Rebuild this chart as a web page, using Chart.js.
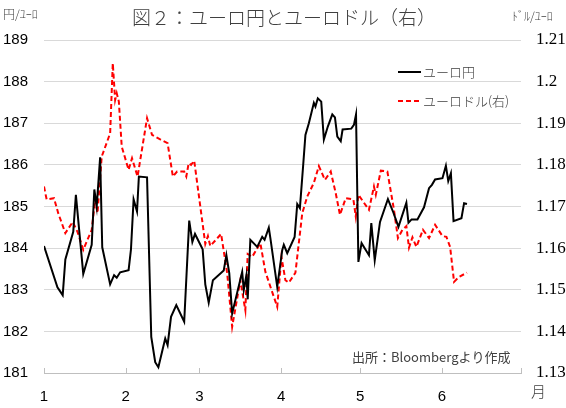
<!DOCTYPE html>
<html>
<head>
<meta charset="utf-8">
<script src="https://cdn.jsdelivr.net/npm/chart.js@4"></script>
<style>
  body { margin: 0; background: #fff; }
  #wrap { width: 566px; height: 408px; position: relative; }
</style>
</head>
<body>
<div id="wrap"><canvas id="fxChart"></canvas></div>
<script>
// x = days since Jan 1
const yenDays = [0, 5.1, 7.1, 8.1, 11.1, 12.1, 14.9, 18.1, 19.1, 20.0, 21.3, 22.1, 25.1, 26.6, 27.6, 28.9, 32.1, 33.0, 34.0, 35.3, 36.0, 39.1, 40.7, 42.2, 43.4, 46.0, 46.9, 48.2, 50.2, 53.2, 55.1, 56.3, 57.3, 60.2, 61.2, 62.5, 64.1, 68.2, 69.2, 70.3, 71.4, 75.2, 75.8, 76.8, 77.3, 78.3, 80.9, 82.8, 83.7, 85.3, 85.9, 88.5, 90.4, 91.0, 92.3, 95.1, 96.1, 97.1, 98.4, 99.2, 100.5, 102.4, 103.0, 103.9, 105.2, 106.2, 107.7, 109.4, 110.4, 111.3, 112.6, 113.3, 116.6, 117.6, 118.4, 119.3, 120.5, 123.3, 124.2, 125.5, 127.5, 130.5, 132.6, 134.5, 137.5, 138.3, 139.5, 141.7, 144.2, 146.1, 147.2, 148.4, 151.2, 152.5, 153.4, 154.4, 155.4, 158.4, 159.4, 160.5];
const yenValues = [184.05, 183.06, 182.87, 183.73, 184.39, 185.28, 183.38, 184.08, 185.41, 185.00, 186.18, 184.02, 183.13, 183.35, 183.29, 183.42, 183.47, 183.97, 185.17, 184.88, 185.72, 185.70, 181.87, 181.26, 181.14, 181.83, 181.67, 182.35, 182.63, 182.23, 184.66, 184.15, 184.34, 183.97, 183.13, 182.69, 183.23, 183.46, 183.83, 183.40, 182.43, 183.43, 182.99, 183.35, 182.77, 184.20, 184.03, 184.27, 184.20, 184.49, 184.24, 183.07, 183.95, 184.08, 183.88, 184.27, 185.06, 184.96, 186.04, 186.72, 187.00, 187.49, 187.40, 187.60, 187.52, 186.61, 186.92, 187.21, 187.14, 186.68, 186.57, 186.85, 186.87, 186.96, 187.21, 183.67, 184.12, 183.83, 184.60, 183.71, 184.63, 185.18, 184.85, 184.51, 185.09, 184.61, 184.69, 184.69, 184.98, 185.44, 185.52, 185.65, 185.68, 185.98, 185.61, 185.80, 184.65, 184.72, 185.08, 185.06];

const usdDays = [0, 1.0, 3.8, 5.4, 8.1, 10.9, 12.7, 14.9, 18.1, 19.4, 20.3, 21.9, 25.1, 26.1, 27.0, 27.6, 28.4, 29.5, 32.1, 33.4, 35.5, 39.1, 41.0, 44.1, 46.9, 48.9, 50.5, 53.2, 54.0, 54.9, 55.8, 57.0, 61.2, 62.2, 63.1, 67.2, 69.5, 71.4, 74.5, 76.4, 77.3, 79.0, 82.1, 84.0, 88.5, 90.1, 91.6, 92.9, 95.4, 98.0, 99.9, 102.4, 104.3, 106.6, 108.8, 110.7, 112.3, 114.5, 117.4, 118.3, 119.3, 123.3, 125.2, 125.9, 127.8, 130.3, 132.8, 134.3, 136.0, 137.5, 138.5, 139.8, 141.3, 143.8, 146.1, 148.4, 151.2, 152.7, 154.1, 155.6, 157.5, 160.5];
const usdValues = [1.1748, 1.1717, 1.1720, 1.1684, 1.1636, 1.1663, 1.1639, 1.1596, 1.1644, 1.1716, 1.1684, 1.1820, 1.1876, 1.2044, 1.1956, 1.1972, 1.1952, 1.1844, 1.1788, 1.1816, 1.1772, 1.1912, 1.1872, 1.1861, 1.1852, 1.1772, 1.1784, 1.1784, 1.1772, 1.1804, 1.1800, 1.1810, 1.1610, 1.1629, 1.1605, 1.1634, 1.1540, 1.1411, 1.1523, 1.1451, 1.1586, 1.1579, 1.1612, 1.1543, 1.1459, 1.1579, 1.1523, 1.1517, 1.1541, 1.1684, 1.1724, 1.1757, 1.1797, 1.1764, 1.1784, 1.1732, 1.1680, 1.1720, 1.1717, 1.1676, 1.1728, 1.1692, 1.1748, 1.1728, 1.1786, 1.1784, 1.1692, 1.1624, 1.1644, 1.1653, 1.1601, 1.1626, 1.1603, 1.1644, 1.1624, 1.1656, 1.1629, 1.1627, 1.1603, 1.1519, 1.1531, 1.1541];

const monthStarts = [0, 31, 59, 90, 120, 151, 181];
const monthLabels = ["1", "2", "3", "4", "5", "6", ""];

const seriesNames = ["ユーロ円", "ユーロドル(右)"];
const titleText = "図２：ユーロ円とユーロドル（右）";
const sourceText = "出所：Bloombergより作成";

const jp = '"Noto Sans CJK JP", sans-serif';

function toPoints(xs, ys) {
  return xs.map((x, i) => ({ x: x, y: ys[i] }));
}

// title, units, legend, source note, inward month ticks
const extras = {
  id: "extras",
  afterDraw(chart) {
    const ctx = chart.ctx;
    const area = chart.chartArea;
    const xs = chart.scales.x;
    ctx.save();

    // inward tick marks on the bottom axis
    ctx.strokeStyle = "#bfbfbf";
    ctx.lineWidth = 1;
    monthStarts.forEach(d => {
      const px = Math.round(xs.getPixelForValue(d)) + 0.5;
      ctx.beginPath();
      ctx.moveTo(px, area.bottom);
      ctx.lineTo(px, area.bottom - 5);
      ctx.stroke();
    });

    ctx.fillStyle = "#404040";
    ctx.textBaseline = "middle";
    ctx.font = "300 19px " + jp;
    ctx.textAlign = "center";
    ctx.fillText(titleText, 284, 18);

    ctx.font = "300 12px " + jp;
    ctx.textAlign = "left";
    ctx.fillText("円/ﾕｰﾛ", 3, 14);
    ctx.fillText("ﾄﾞﾙ/ﾕｰﾛ", 512, 16);

    ctx.font = "300 15px " + jp;
    ctx.fillText("月", 531, 391);

    ctx.font = "13px " + jp;
    ctx.fillText(sourceText, 352, 357);

    // legend
    const rows = [72, 101];
    chart.data.datasets.forEach((ds, i) => {
      const y = rows[i];
      ctx.strokeStyle = ds.borderColor;
      ctx.lineWidth = 2;
      ctx.setLineDash(ds.borderDash || []);
      ctx.beginPath();
      ctx.moveTo(398, y);
      ctx.lineTo(421, y);
      ctx.stroke();
      ctx.setLineDash([]);
      ctx.fillStyle = "#404040";
      ctx.font = "300 13px " + jp;
      ctx.fillText(ds.label, 423, y);
    });
    ctx.restore();
  }
};

new Chart("fxChart", {
  type: "line",
  data: {
    datasets: [{
      label: seriesNames[0],
      data: toPoints(yenDays, yenValues),
      borderColor: "#000000",
      borderWidth: 2,
      pointRadius: 0,
      tension: 0,
      yAxisID: "y"
    }, {
      label: seriesNames[1],
      data: toPoints(usdDays, usdValues),
      borderColor: "#ff0000",
      borderWidth: 2,
      borderDash: [5, 3],
      pointRadius: 0,
      tension: 0,
      yAxisID: "y1"
    }]
  },
  options: {
    responsive: true,
    maintainAspectRatio: false,
    animation: false,
    layout: { padding: { top: 40, left: 0, right: 0, bottom: 0 } },
    plugins: {
      legend: { display: false },
      title: { display: false },
      tooltip: { enabled: false }
    },
    scales: {
      x: {
        type: "linear",
        min: 0,
        max: 181,
        afterBuildTicks: s => { s.ticks = monthStarts.map(v => ({ value: v })); },
        afterFit: s => { s.height = 35; },
        ticks: {
          autoSkip: false,
          maxRotation: 0,
          padding: 15,
          color: "#000",
          font: { family: "Liberation Sans", size: 15 },
          callback: (v, i) => monthLabels[i]
        },
        grid: { drawOnChartArea: false, drawTicks: false },
        border: { display: true, color: "#bfbfbf", width: 1 }
      },
      y: {
        position: "left",
        min: 181,
        max: 189,
        afterFit: s => { s.width = 44; },
        ticks: {
          stepSize: 1,
          padding: 16,
          color: "#000",
          font: { family: "Liberation Sans", size: 15 }
        },
        grid: { color: "#d9d9d9", lineWidth: 1, drawTicks: false },
        border: { display: false }
      },
      y1: {
        position: "right",
        min: 1.13,
        max: 1.21,
        afterFit: s => { s.width = 45; },
        ticks: {
          stepSize: 0.01,
          padding: 15,
          color: "#000",
          font: { family: "Liberation Serif", size: 17 },
          callback: v => Number(v.toFixed(2)).toString()
        },
        grid: { drawOnChartArea: false, drawTicks: false },
        border: { display: false }
      }
    }
  },
  plugins: [extras]
});
</script>
</body>
</html>
